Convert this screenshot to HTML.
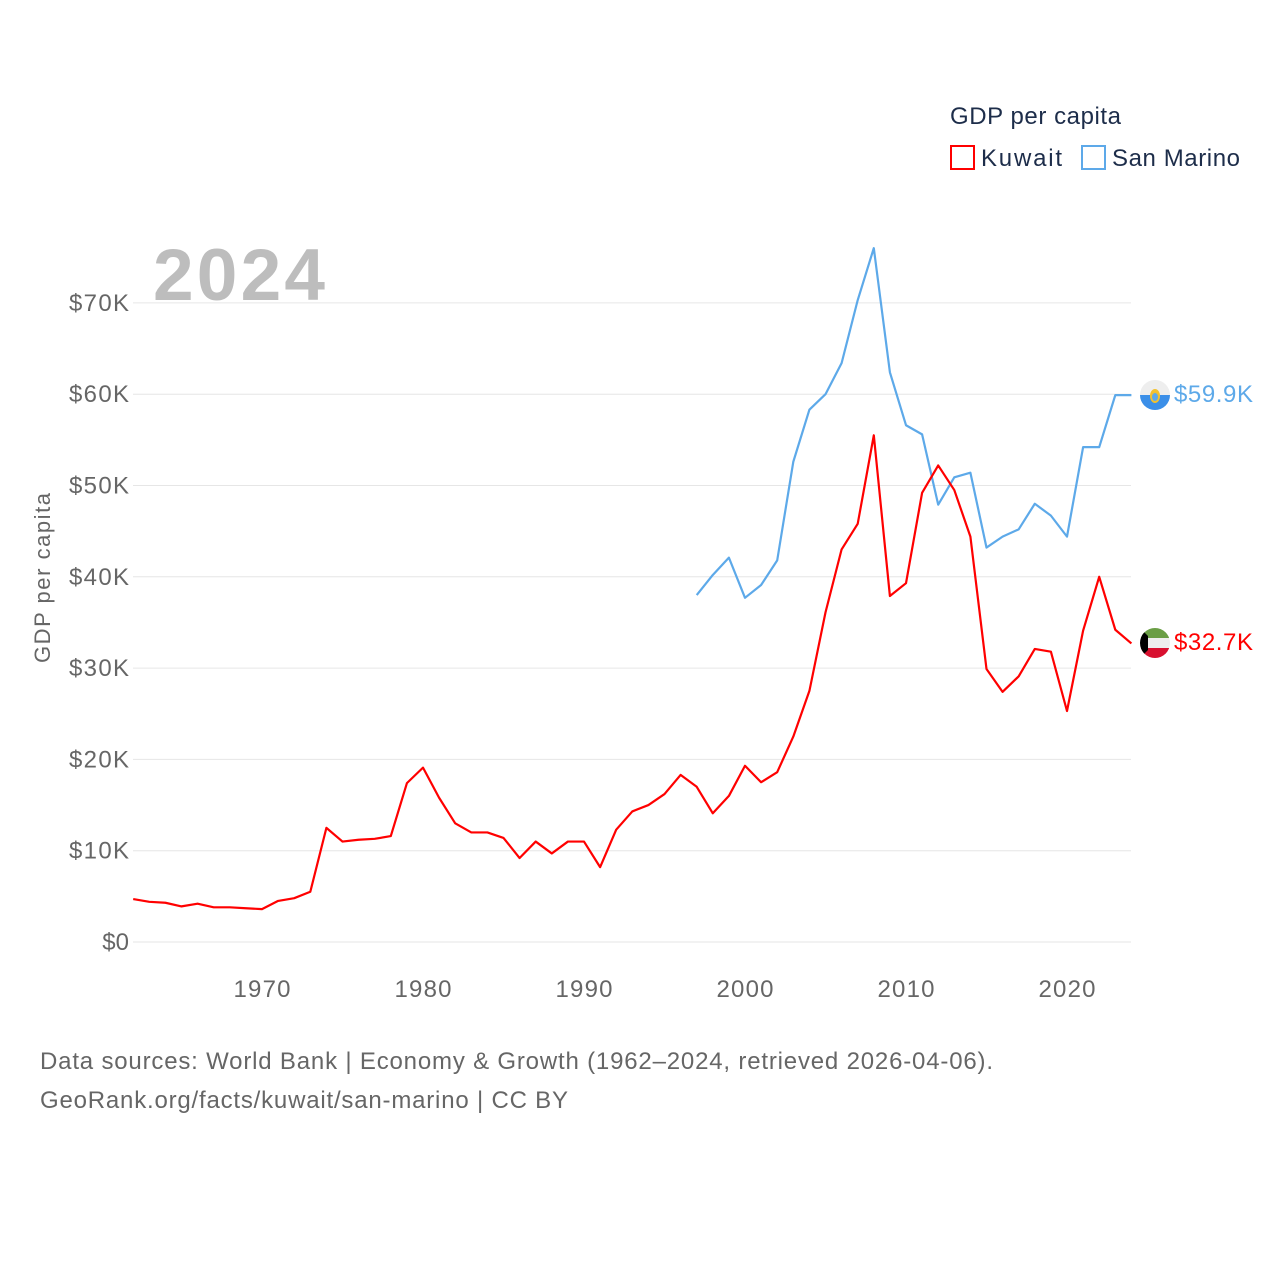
<!DOCTYPE html>
<html><head><meta charset="utf-8"><style>
body{margin:0;background:#fff;}
svg{display:block;font-family:"Liberation Sans",sans-serif;}
</style></head><body>
<svg id="chart" width="1280" height="1280" viewBox="0 0 1280 1280">
<text x="950" y="124" font-size="24" fill="#1d2d4a" textLength="171">GDP per capita</text>
<g><rect x="951" y="146" width="23" height="23" fill="none" stroke="#ff0000" stroke-width="2"/><text x="981" y="166" font-size="24" fill="#1d2d4a" textLength="81">Kuwait</text></g>
<g><rect x="1082" y="146" width="23" height="23" fill="none" stroke="#5da9e9" stroke-width="2"/><text x="1112" y="166" font-size="24" fill="#1d2d4a" textLength="128">San Marino</text></g>
<text x="153" y="300" font-size="73" font-weight="bold" fill="#bdbdbd" textLength="172">2024</text>
<g id="grid"></g><g id="yticks"></g><g id="xticks"></g><g id="lines"></g>
<text transform="translate(50,578) rotate(-90)" text-anchor="middle" font-size="22" fill="#666" textLength="170">GDP per capita</text>
<g>
<clipPath id="c1"><circle cx="1155" cy="395" r="15"/></clipPath>
<g clip-path="url(#c1)"><rect x="1140" y="380" width="30" height="15" fill="#eee"/><rect x="1140" y="395" width="30" height="15" fill="#3b8fe8"/><ellipse cx="1155" cy="396" rx="5" ry="7" fill="#f2c12e"/><ellipse cx="1155" cy="397" rx="3" ry="4" fill="#5da9e9"/></g>
<text x="1174" y="402" font-size="24" fill="#5da9e9" textLength="79">$59.9K</text></g>
<g>
<clipPath id="c2"><circle cx="1155" cy="643" r="15"/></clipPath>
<g clip-path="url(#c2)"><rect x="1140" y="628" width="30" height="10" fill="#6a9e45"/><rect x="1140" y="638" width="30" height="10" fill="#eee"/><rect x="1140" y="648" width="30" height="10" fill="#d8102f"/><polygon points="1140,628 1148,636 1148,650 1140,658" fill="#000"/></g>
<text x="1174" y="650" font-size="24" fill="#ff0000" textLength="79">$32.7K</text></g>
<text x="40" y="1069" font-size="24" fill="#666" textLength="953">Data sources: World Bank | Economy &amp; Growth (1962–2024, retrieved 2026-04-06).</text>
<text x="40" y="1108" font-size="24" fill="#666" textLength="528">GeoRank.org/facts/kuwait/san-marino | CC BY</text>
</svg>
<script>
const kuwaitYears=[1962,1963,1964,1965,1966,1967,1968,1969,1970,1971,1972,1973,1974,1975,1976,1977,1978,1979,1980,1981,1982,1983,1984,1985,1986,1987,1988,1989,1990,1991,1992,1993,1994,1995,1996,1997,1998,1999,2000,2001,2002,2003,2004,2005,2006,2007,2008,2009,2010,2011,2012,2013,2014,2015,2016,2017,2018,2019,2020,2021,2022,2023,2024];
const kuwaitValues=[4.7,4.4,4.3,3.9,4.2,3.8,3.8,3.7,3.6,4.5,4.8,5.5,12.5,11.0,11.2,11.3,11.6,17.4,19.1,15.8,13.0,12.0,12.0,11.4,9.2,11.0,9.7,11.0,11.0,8.2,12.3,14.3,15.0,16.2,18.3,17.0,14.1,16.0,19.3,17.5,18.6,22.5,27.5,36.1,43.0,45.8,55.5,37.9,39.3,49.2,52.2,49.5,44.4,29.9,27.4,29.1,32.1,31.8,25.3,34.1,40.0,34.2,32.7];
const smYears=[1997,1998,1999,2000,2001,2002,2003,2004,2005,2006,2007,2008,2009,2010,2011,2012,2013,2014,2015,2016,2017,2018,2019,2020,2021,2022,2023,2024];
const smValues=[38.0,40.2,42.1,37.7,39.1,41.8,52.6,58.3,60.0,63.4,70.3,76.0,62.4,56.6,55.6,47.9,50.9,51.4,43.2,44.4,45.2,48.0,46.7,44.4,54.2,54.2,59.9,59.9];
const yTicks=[0,10,20,30,40,50,60,70];
const yTickLabels=["$0","$10K","$20K","$30K","$40K","$50K","$60K","$70K"];
const xTicks=[1970,1980,1990,2000,2010,2020];
const NS="http://www.w3.org/2000/svg";
function xs(y){return 133.2+(y-1962)*16.1;}
function ys(v){return 942-v*9.13;}
function mk(t,a,p){const e=document.createElementNS(NS,t);for(const k in a)e.setAttribute(k,a[k]);p.appendChild(e);return e;}
const grid=document.getElementById('grid'),yt=document.getElementById('yticks'),xt=document.getElementById('xticks'),ln=document.getElementById('lines');
yTicks.forEach((v,i)=>{
 const l=mk('line',{x1:133,x2:1131,y1:ys(v),y2:ys(v),stroke:'#e6e6e6','stroke-width':1},grid);
 
 
 const t=mk('text',{x:129,y:ys(v)+8,'text-anchor':'end','font-size':24,fill:'#666'},yt);
 t.textContent=yTickLabels[i];
 if(yTickLabels[i].length>3) t.setAttribute('textLength',60);
 
 
});
xTicks.forEach(y=>{
 const t=mk('text',{x:xs(y),y:997,'text-anchor':'middle','font-size':24,fill:'#666',textLength:57},xt);
 t.textContent=y;
 
 
});
function line(years,vals,color,name){
 const p=mk('polyline',{points:years.map((y,i)=>xs(y)+','+ys(vals[i])).join(' '),fill:'none',stroke:color,'stroke-width':2.2,'stroke-linejoin':'round'},ln);
 
 
}
line(smYears,smValues,'#5da9e9','series-san-marino');
line(kuwaitYears,kuwaitValues,'#ff0000','series-kuwait');
</script>
</body></html>
